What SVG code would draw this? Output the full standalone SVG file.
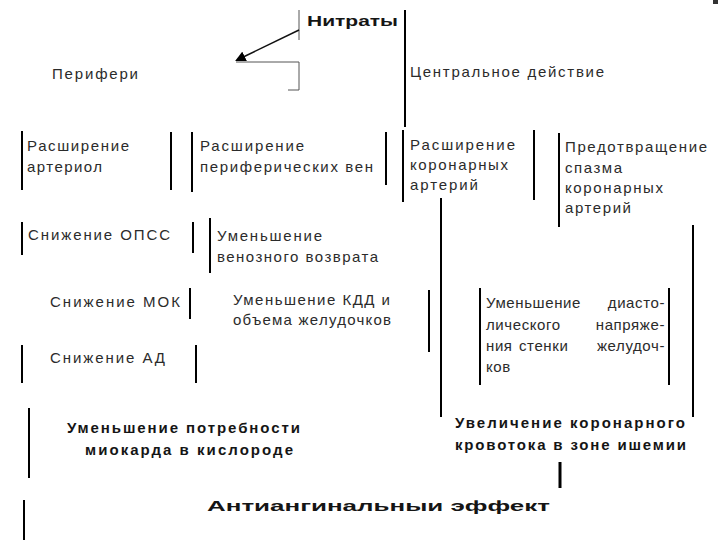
<svg xmlns="http://www.w3.org/2000/svg" width="720" height="540" viewBox="0 0 720 540">
<style>
.t{font-family:"Liberation Sans",Arial,sans-serif;font-size:15px;fill:#2b2b2b}
.b{font-family:"Liberation Sans",Arial,sans-serif;font-size:15px;font-weight:bold;fill:#151515}
.k{stroke:#000;stroke-width:2;fill:none}
.g{stroke:#555;stroke-width:1;fill:none}
#diast text{letter-spacing:0.6px}
</style>
<defs>
<marker id="ah" viewBox="0 0 10 10" refX="8" refY="5" markerWidth="7" markerHeight="7" orient="auto">
<path d="M0,0 L10,5 L0,10 z" fill="#000"/>
</marker>
</defs>
<rect width="720" height="540" fill="#fff"/>
<rect x="713" y="0" width="5" height="4" fill="#333"/>
<g id="connectors">
<line class="g" x1="299" y1="10" x2="299" y2="40"/>
<line x1="299" y1="30" x2="237" y2="60" stroke="#111" stroke-width="1.5" marker-end="url(#ah)"/>
<polyline class="g" points="236,62 299,62 299,90 288,90"/>
<line class="k" x1="405" y1="10" x2="405" y2="127"/>
<line class="k" x1="22" y1="131" x2="22" y2="190"/>
<line class="k" x1="171" y1="132" x2="171" y2="190"/>
<line class="k" x1="192" y1="132" x2="192" y2="192"/>
<line class="k" x1="386" y1="132" x2="386" y2="185"/>
<line class="k" x1="403" y1="130" x2="403" y2="202"/>
<line class="k" x1="534" y1="130" x2="534" y2="200"/>
<line class="k" x1="559" y1="133" x2="559" y2="227"/>
<line class="k" x1="441" y1="198" x2="441" y2="417"/>
<line class="k" x1="693" y1="225" x2="693" y2="417"/>
<line class="k" x1="22" y1="222" x2="22" y2="255"/>
<line class="k" x1="193" y1="222" x2="193" y2="253"/>
<line class="k" x1="210" y1="218" x2="210" y2="273"/>
<line class="k" x1="190" y1="288" x2="190" y2="319"/>
<line class="k" x1="22" y1="345" x2="22" y2="383"/>
<line class="k" x1="196" y1="345" x2="196" y2="383"/>
<line class="k" x1="429" y1="290" x2="429" y2="352"/>
<line class="k" x1="480" y1="288" x2="480" y2="385"/>
<line class="k" x1="669" y1="288" x2="669" y2="385"/>
<line class="k" x1="29" y1="408" x2="29" y2="478"/>
<line class="k" x1="24" y1="500" x2="24" y2="540"/>
<line x1="560" y1="462" x2="560" y2="488" stroke="#000" stroke-width="3"/>
</g>
<g id="nitrates"><text class="b" x="307" y="26" font-size="18" textLength="91" lengthAdjust="spacingAndGlyphs">Нитраты</text></g>
<g id="periph"><text class="t" x="52" y="79" textLength="86" lengthAdjust="spacing">Перифери</text></g>
<g id="central"><text class="t" x="410" y="77" textLength="194" lengthAdjust="spacing">Центральное действие</text></g>
<g id="arterioles">
<text class="t" x="27" y="151" textLength="102" lengthAdjust="spacing">Расширение</text>
<text class="t" x="27" y="172" textLength="75" lengthAdjust="spacing">артериол</text>
</g>
<g id="veins">
<text class="t" x="200" y="151" textLength="104" lengthAdjust="spacing">Расширение</text>
<text class="t" x="200" y="172" textLength="173" lengthAdjust="spacing">периферических вен</text>
</g>
<g id="coronary">
<text class="t" x="410" y="150" textLength="105" lengthAdjust="spacing">Расширение</text>
<text class="t" x="410" y="170" textLength="98" lengthAdjust="spacing">коронарных</text>
<text class="t" x="410" y="190" textLength="68" lengthAdjust="spacing">артерий</text>
</g>
<g id="spasm">
<text class="t" x="565" y="152" textLength="142" lengthAdjust="spacing">Предотвращение</text>
<text class="t" x="565" y="173" textLength="57" lengthAdjust="spacing">спазма</text>
<text class="t" x="565" y="193" textLength="98" lengthAdjust="spacing">коронарных</text>
<text class="t" x="565" y="213" textLength="66" lengthAdjust="spacing">артерий</text>
</g>
<g id="opss"><text class="t" x="28" y="240" textLength="142" lengthAdjust="spacing">Снижение ОПСС</text></g>
<g id="venous">
<text class="t" x="217" y="241" textLength="105" lengthAdjust="spacing">Уменьшение</text>
<text class="t" x="217" y="262" textLength="161" lengthAdjust="spacing">венозного возврата</text>
</g>
<g id="mok"><text class="t" x="50" y="307" textLength="130" lengthAdjust="spacing">Снижение МОК</text></g>
<g id="kdd">
<text class="t" x="233" y="305" textLength="157" lengthAdjust="spacing">Уменьшение КДД и</text>
<text class="t" x="233" y="325" textLength="158" lengthAdjust="spacing">объема желудочков</text>
</g>
<g id="ad"><text class="t" x="50" y="363" textLength="115" lengthAdjust="spacing">Снижение АД</text></g>
<g id="diast">
<text class="t" x="486" y="308">Уменьшение</text>
<text class="t" x="665" y="308" text-anchor="end">диасто-</text>
<text class="t" x="486" y="330">лического</text>
<text class="t" x="665" y="330" text-anchor="end">напряже-</text>
<text class="t" x="486" y="351">ния</text>
<text class="t" x="519" y="351">стенки</text>
<text class="t" x="665" y="351" text-anchor="end">желудоч-</text>
<text class="t" x="486" y="372">ков</text>
</g>
<g id="demand">
<text class="b" x="67" y="433" textLength="233" lengthAdjust="spacing">Уменьшение потребности</text>
<text class="b" x="85" y="455" textLength="208" lengthAdjust="spacing">миокарда в кислороде</text>
</g>
<g id="flow">
<text class="b" x="455" y="428" textLength="230" lengthAdjust="spacing">Увеличение коронарного</text>
<text class="b" x="455" y="450" textLength="231" lengthAdjust="spacing">кровотока в зоне ишемии</text>
</g>
<g id="effect"><text class="b" x="207" y="511" font-size="28" textLength="343" lengthAdjust="spacingAndGlyphs">Антиангинальныи эффект</text></g>
</svg>
